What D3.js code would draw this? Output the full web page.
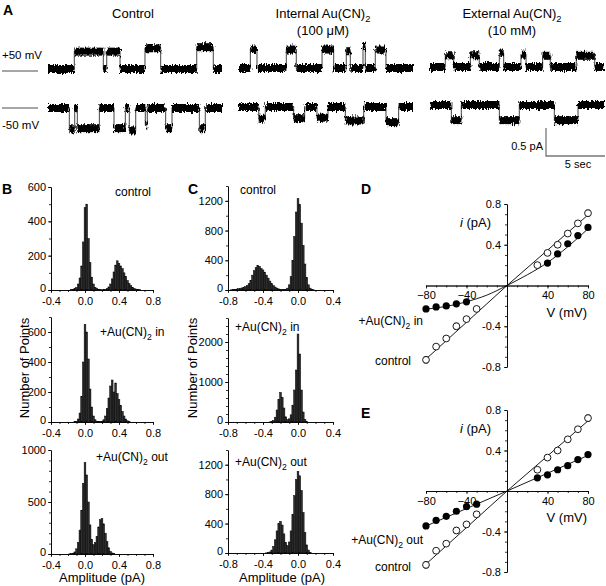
<!DOCTYPE html>
<html><head><meta charset="utf-8">
<script src="https://cdn.jsdelivr.net/npm/d3@7"></script>
<style>
body{margin:0;background:#fff}
text{font-family:"Liberation Sans",Arial,Helvetica,sans-serif;fill:#000}
</style>
</head><body>
<svg id="c" width="606" height="586">
<defs>
<filter id="noise" x="-5%" y="-60%" width="110%" height="220%">
<feTurbulence type="fractalNoise" baseFrequency="0.9 0.25" numOctaves="2" seed="3" result="t"/>
<feDisplacementMap in="SourceGraphic" in2="t" scale="6" xChannelSelector="R" yChannelSelector="G"/>
</filter>
</defs>
</svg>
<script>
// ---------------- DATA ----------------
// Panel A: single-channel openings [start s, end s, amplitude pA]
const traceDuration = 15;
const ctrlPos = [[2.27,4.77,0.31],[5.06,6.21,0.31],[8.36,9.71,0.37],[12.82,14.25,0.39]];
const ctrlNeg = [[1.84,2.30,-0.38],[2.53,4.43,-0.36],[5.69,6.67,-0.36],[7.01,7.56,-0.40],[8.39,8.56,-0.30],[10.14,10.69,-0.36],[13.05,13.56,-0.36]];
const inPos = [[0.98,1.55,0.33],[4.08,4.94,0.33],[7.16,8.16,0.33],[9.25,9.60,0.30],[10.69,10.89,0.38],[11.75,12.67,0.33]];
const inNeg = [[1.70,2.27,-0.21],[4.71,5.66,-0.20],[6.72,7.67,-0.19],[9.17,10.75,-0.24],[12.67,13.76,-0.27]];
const outPos = [[1.32,2.04,0.21],[3.48,4.25,0.21],[5.98,6.35,0.24],[7.84,8.28,0.22],[9.71,10.37,0.20],[12.61,14.20,0.20]];
const outNeg = [[1.84,2.70,-0.27],[5.98,7.70,-0.27],[10.72,12.76,-0.27]];

// Panels B, C: amplitude histograms (bin width 0.02 pA; first bin centre, counts)
const binW = 0.02;
const bCtrlStart = -0.16;
const bCtrlCounts = [2,4,8,15,35,70,140,280,480,500,300,160,75,35,16,8,4,2,1,2,4,8,18,35,65,105,145,170,155,140,125,100,80,55,38,25,15,9,5,3,2];
const bInStart = -0.12;
const bInCounts = [2,5,20,60,170,400,650,600,420,220,100,40,15,5,2,2,5,15,40,90,160,240,280,200,260,190,150,110,70,40,20,8,3];
const bOutStart = -0.18;
const bOutCounts = [2,3,8,20,50,110,230,420,680,880,760,500,280,140,90,110,170,260,330,340,290,200,120,60,25,10,3];
const cCtrlStart = -0.76;
const cCtrlCounts = [3,5,8,12,18,22,28,35,45,60,85,130,200,260,300,330,320,290,270,240,200,160,120,85,60,40,25,15,8,5,4,8,25,70,180,400,720,1050,1230,1150,900,600,350,170,70,25,8,3];
const cInStart = -0.32;
const cInCounts = [3,10,40,120,300,560,740,620,350,130,60,80,180,420,800,1300,2200,1700,800,250,60,10];
const cOutStart = -0.36;
const cOutCounts = [2,5,15,40,90,180,300,400,430,380,260,140,100,150,300,520,780,1000,1110,1050,850,550,280,110,40,10];

// Panels D, E: I-V relations
const ivV = [-80,-70,-60,-50,-40,-30,30,40,50,60,70,80];
const dCtrlI = [-0.73,-0.60,-0.52,-0.40,-0.33,-0.23,0.20,0.32,0.40,0.51,0.61,0.71];
const dCtrlErr = [0.03,0.02,0.02,0.03,0.01,0.01,0.01,0.01,0.01,0.01,0.02,0.03];
const dInV = [-80,-70,-60,-50,-40,40,50,60,70,80];
const dInI = [-0.23,-0.21,-0.20,-0.18,-0.16,0.22,0.31,0.41,0.49,0.57];
const eCtrlI = [-0.73,-0.59,-0.52,-0.39,-0.33,-0.23,0.21,0.33,0.40,0.51,0.61,0.72];
const eCtrlErr = [0.03,0.02,0.02,0.03,0.01,0.01,0.01,0.01,0.01,0.01,0.02,0.03];
const eOutI = [-0.345,-0.29,-0.25,-0.20,-0.155,-0.13,0.13,0.16,0.21,0.25,0.31,0.36];
// fitted curves
const ctrlFitV = [-82,0,82], ctrlFitI = [-0.74,0,0.71];
const inFitV = [-82,-70,-60,-50,-40,-30,-20,-10,0,20,40,60,82];
const inFitI = [-0.235,-0.22,-0.205,-0.185,-0.16,-0.13,-0.095,-0.05,0,0.105,0.225,0.38,0.575];
const outFitV = [-82,0,82], outFitI = [-0.355,0,0.36];

// tick labels
const bXTicks = [-0.4,0,0.4,0.8];
const cXTicks = [-0.8,-0.4,0,0.4];
const ivXTicks = [-80,-40,40,80];
const ivYTicks = [-0.8,-0.4,0.4,0.8];

// ---------------- DRAW ----------------
const svg = d3.select("#c");
const FONT = '"Liberation Sans",Arial,sans-serif';

function subText(x, y, pre, sub, post, size, anchor, weight) {
  const t = svg.append("text").attr("x", x).attr("y", y).attr("font-size", size)
    .attr("text-anchor", anchor || "start");
  if (weight) t.attr("font-weight", weight);
  t.append("tspan").text(pre);
  if (sub) {
    t.append("tspan").text(sub).attr("font-size", size * 0.72).attr("dy", size * 0.3);
    t.append("tspan").text(post).attr("dy", -size * 0.3);
  }
  return t;
}
function label(x, y, s, size, anchor, extra) {
  const t = svg.append("text").attr("x", x).attr("y", y).attr("font-size", size)
    .attr("text-anchor", anchor || "start").text(s);
  if (extra) extra(t);
  return t;
}

// Panel letters
[["A",3,15],["B",2,194],["C",188,194],["D",361,194],["E",361,418]].forEach(d =>
  label(d[1], d[2], d[0], 14, "start", t => t.attr("font-weight", "bold")));

// ---- Panel A ----
subText(133, 18, "Control", null, null, 13, "middle");
subText(323, 18, "Internal Au(CN)", "2", "", 13, "middle");
label(323, 35, "(100 \u03bcM)", 13, "middle");
subText(512, 18, "External Au(CN)", "2", "", 13, "middle");
label(512, 35, "(10 mM)", 13, "middle");
label(2, 59, "+50 mV", 11.5);
label(2, 129, "-50 mV", 11.5);
svg.append("line").attr("x1", 2).attr("x2", 38).attr("y1", 71).attr("y2", 71).attr("stroke", "#888").attr("stroke-width", 1.3);
svg.append("line").attr("x1", 2).attr("x2", 38).attr("y1", 108).attr("y2", 108).attr("stroke", "#888").attr("stroke-width", 1.3);

const pxPerPA = 56, traceW = 174;
function drawTrace(events, x0, baseY) {
  const x = d3.scaleLinear([0, traceDuration], [x0, x0 + traceW]);
  const y = d3.scaleLinear([0, 1], [baseY, baseY - pxPerPA]);
  const segs = []; let t = 0;
  events.forEach(e => { segs.push([t, e[0], 0]); segs.push([e[0], e[1], e[2]]); t = e[1]; });
  segs.push([t, traceDuration, 0]);
  const pts = segs.map(s => [s[0], s[2]]); pts.push([traceDuration, 0]);
  const g = svg.append("g");
  g.append("path").datum(pts)
    .attr("d", d3.line().x(d => x(d[0])).y(d => y(d[1])).curve(d3.curveStepAfter))
    .attr("fill", "none").attr("stroke", "#555").attr("stroke-width", 1.1);
  g.append("g").attr("filter", "url(#noise)")
    .selectAll("rect").data(segs).join("rect")
    .attr("x", d => x(d[0])).attr("width", d => Math.max(0.8, x(d[1]) - x(d[0])))
    .attr("y", d => y(d[2]) - 4).attr("height", 8).attr("fill", "#000");
}
drawTrace(ctrlPos, 48, 69);
drawTrace(ctrlNeg, 48, 108);
drawTrace(inPos, 239, 68);
drawTrace(inNeg, 239, 107);
drawTrace(outPos, 430, 67);
drawTrace(outNeg, 430, 105);
// scale bar
svg.append("path").attr("d", "M546,128V156H605").attr("fill", "none").attr("stroke", "#777").attr("stroke-width", 1.3);
label(543, 150, "0.5 pA", 11, "end");
label(578, 168, "5 sec", 11, "middle");

// ---- Histograms ----
function fmt1(d) { return d === 0 ? "0.0" : d.toFixed(1); }
function styleAxis(a) {
  a.selectAll("path,line").attr("stroke", "#000").attr("stroke-width", 0.8);
  a.selectAll("text").attr("font-size", 11).attr("font-family", FONT).attr("fill", "#000");
}
function histPanel(o) {
  const x = d3.scaleLinear(o.xDomain, [o.x0, o.x1]);
  const y = d3.scaleLinear([0, o.yMax], [o.yBase, o.yTop]);
  const g = svg.append("g");
  g.selectAll("rect").data(o.counts).join("rect")
    .attr("x", (d, i) => x(o.start + i * binW - binW / 2))
    .attr("width", x(binW) - x(0))
    .attr("y", d => y(d)).attr("height", d => y(0) - y(d))
    .attr("fill", "#2e2e2e").attr("stroke", "#000").attr("stroke-width", 0.5);
  const xa = g.append("g").attr("transform", `translate(0,${o.yBase})`)
    .call(d3.axisBottom(x).tickValues(o.xTicks).tickFormat(fmt1).tickSize(3).tickSizeOuter(0).tickPadding(4));
  const xm = g.append("g").attr("transform", `translate(0,${o.yBase})`)
    .call(d3.axisBottom(x).tickValues(d3.range(o.xDomain[0], o.xDomain[1] + 0.001, 0.1)).tickFormat("").tickSize(2).tickSizeOuter(0));
  const ya = g.append("g").attr("transform", `translate(${o.x0},0)`)
    .call(d3.axisLeft(y).tickValues(o.yTicks).tickFormat(d => String(d)).tickSize(3).tickSizeOuter(0).tickPadding(2));
  const ym = g.append("g").attr("transform", `translate(${o.x0},0)`)
    .call(d3.axisLeft(y).tickValues(d3.range(0, o.yMax + 1, o.yMinor)).tickFormat("").tickSize(2).tickSizeOuter(0));
  [xa, xm, ya, ym].forEach(styleAxis);
  ya.selectAll(".tick text").filter(d => d === 0).attr("dy", "0.1em");
  if (o.label) subText(o.lx, o.ly, o.label[0], o.label[1], o.label[2], 12, "start");
}
const B = { x0: 51, x1: 153, xDomain: [-0.4, 0.8], xTicks: bXTicks };
const C = { x0: 228, x1: 333, xDomain: [-0.8, 0.4], xTicks: cXTicks };
histPanel({ ...B, yTop: 187, yBase: 290, yMax: 600, yTicks: [0,200,400,600], yMinor: 100, start: bCtrlStart, counts: bCtrlCounts, label: ["control", null, null], lx: 115, ly: 196 });
histPanel({ ...B, yTop: 317, yBase: 422, yMax: 700, yTicks: [0,200,400,600], yMinor: 100, start: bInStart, counts: bInCounts, label: ["+Au(CN)", "2", " in"], lx: 100, ly: 336 });
histPanel({ ...B, yTop: 450, yBase: 554, yMax: 1000, yTicks: [0,500,1000], yMinor: 100, start: bOutStart, counts: bOutCounts, label: ["+Au(CN)", "2", " out"], lx: 96, ly: 461 });
histPanel({ ...C, yTop: 186, yBase: 290, yMax: 1400, yTicks: [0,400,800,1200], yMinor: 200, start: cCtrlStart, counts: cCtrlCounts, label: ["control", null, null], lx: 240, ly: 194 });
histPanel({ ...C, yTop: 318, yBase: 422, yMax: 2600, yTicks: [0,1000,2000], yMinor: 200, start: cInStart, counts: cInCounts, label: ["+Au(CN)", "2", " in"], lx: 235, ly: 331 });
histPanel({ ...C, yTop: 450, yBase: 553, yMax: 1400, yTicks: [0,400,800,1200], yMinor: 200, start: cOutStart, counts: cOutCounts, label: ["+Au(CN)", "2", " out"], lx: 235, ly: 466 });
label(25, 368, "Number of Points", 13, "middle", t => t.attr("transform", "rotate(-90,25,368)").attr("dy", 4));
label(193, 368, "Number of Points", 13, "middle", t => t.attr("transform", "rotate(-90,193,368)").attr("dy", 4));
label(102, 582, "Amplitude (pA)", 13, "middle");
label(282, 582, "Amplitude (pA)", 13, "middle");

// ---- I-V panels ----
function ivPanel(o) {
  const x = d3.scaleLinear([-80, 80], [426, 588]);
  const y = d3.scaleLinear([-0.8, 0.8], [o.yBot, o.yTop]);
  const g = svg.append("g");
  const xa = g.append("g").attr("transform", `translate(0,${y(0)})`)
    .call(d3.axisBottom(x).tickValues(ivXTicks).tickSize(3).tickSizeOuter(0).tickPadding(3));
  const xm = g.append("g").attr("transform", `translate(0,${y(0)})`)
    .call(d3.axisBottom(x).tickValues(d3.range(-80, 81, 10)).tickFormat("").tickSize(2).tickSizeOuter(0));
  const ya = g.append("g").attr("transform", `translate(${x(0)},0)`)
    .call(d3.axisLeft(y).tickValues(ivYTicks).tickFormat(d => d.toFixed(1)).tickSize(3).tickSizeOuter(0).tickPadding(3));
  const ym = g.append("g").attr("transform", `translate(${x(0)},0)`)
    .call(d3.axisLeft(y).tickValues(d3.range(-0.8, 0.81, 0.1)).tickFormat("").tickSize(2).tickSizeOuter(0));
  [xa, xm, ya, ym].forEach(styleAxis);
  const line = d3.line().x(d => x(d[0])).y(d => y(d[1]));
  const lineC = d3.line().x(d => x(d[0])).y(d => y(d[1])).curve(d3.curveMonotoneX);
  g.append("path").attr("d", line(ctrlFitV.map((v, i) => [v, ctrlFitI[i]]))).attr("fill", "none").attr("stroke", "#000").attr("stroke-width", 0.9);
  g.append("path").attr("d", lineC(o.fitV.map((v, i) => [v, o.fitI[i]]))).attr("fill", "none").attr("stroke", "#000").attr("stroke-width", 0.9);
  const ctrl = ivV.map((v, i) => [v, o.ctrlI[i], o.ctrlErr[i]]);
  g.selectAll(".eb").data(ctrl).join("path")
    .attr("d", d => `M${x(d[0])},${y(d[1]-d[2])-3.5}V${y(d[1]-d[2])}M${x(d[0])-2},${y(d[1]-d[2])}H${x(d[0])+2}M${x(d[0])},${y(d[1]+d[2])+3.5}V${y(d[1]+d[2])}M${x(d[0])-2},${y(d[1]+d[2])}H${x(d[0])+2}`)
    .attr("stroke", "#000").attr("stroke-width", 0.8).attr("fill", "none");
  g.selectAll(".oc").data(ctrl).join("circle")
    .attr("cx", d => x(d[0])).attr("cy", d => y(d[1])).attr("r", 3.4)
    .attr("fill", "#fff").attr("stroke", "#000").attr("stroke-width", 0.9);
  g.selectAll(".fc").data(o.drugV.map((v, i) => [v, o.drugI[i]])).join("circle")
    .attr("cx", d => x(d[0])).attr("cy", d => y(d[1])).attr("r", 3.6)
    .attr("fill", "#000");
  svg.append("text").attr("x", 491).attr("y", o.yTop + 23).attr("font-size", 13).attr("text-anchor", "end")
    .call(t => { t.append("tspan").attr("font-style", "italic").text("i"); t.append("tspan").text(" (pA)"); });
  label(587, y(0) + 31, "V (mV)", 13, "end");
  subText(423, o.drugLY, "+Au(CN)", "2", o.drugPost, 12, "end");
  label(411, o.ctrlLY, "control", 12, "end");
}
ivPanel({ yTop: 204, yBot: 367, ctrlI: dCtrlI, ctrlErr: dCtrlErr, drugV: dInV, drugI: dInI, fitV: inFitV, fitI: inFitI, drugPost: " in", drugLY: 325, ctrlLY: 365 });
ivPanel({ yTop: 410, yBot: 572, ctrlI: eCtrlI, ctrlErr: eCtrlErr, drugV: ivV, drugI: eOutI, fitV: outFitV, fitI: outFitI, drugPost: " out", drugLY: 544, ctrlLY: 571 });
</script>
</body></html>
